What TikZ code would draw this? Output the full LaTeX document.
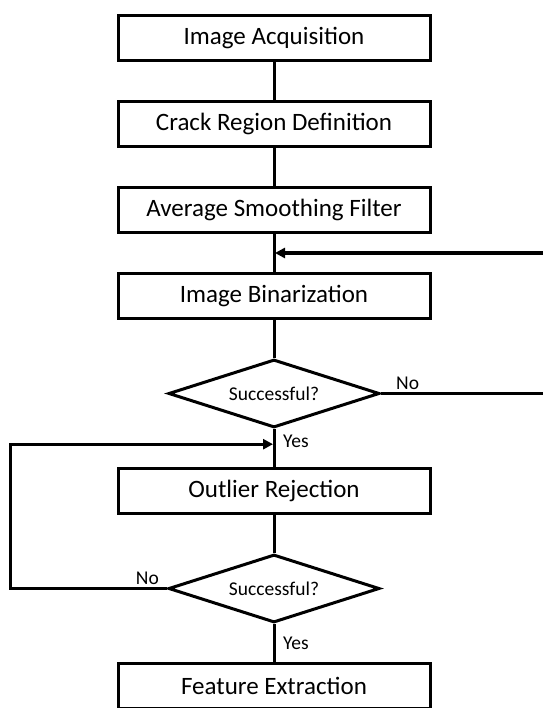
\documentclass[tikz,border=0pt]{standalone}
\usepackage{fontspec}
\setmainfont{Carlito}
\usepackage{tikz}
\usetikzlibrary{positioning, arrows.meta, shapes.geometric, calc}

\begin{document}
\begin{tikzpicture}[
        x=1pt, y=1pt,
        node distance=38pt,
        box/.style={rectangle, draw=black, line width=3pt, fill=white, minimum width=312pt, minimum height=45pt, align=center, font=\fontsize{25}{29}\selectfont},
        decision/.style={diamond, draw=black, line width=3pt, fill=white, aspect=3, minimum width=211pt, minimum height=68pt, inner sep=0pt, font=\fontsize{19.5}{23}\selectfont},
        link/.style={line width=3pt},
        arrow/.style={line width=3pt, -{Triangle[length=10pt, width=10pt]}},
        lbl/.style={font=\fontsize{19.5}{23}\selectfont, inner sep=0pt}
    ]
    \useasboundingbox (0,0) rectangle (542,-708);

    \node[box] (acq) at (274,-38) {Image Acquisition};
    \node[box, below=of acq] (crack) {Crack Region Definition};
    \node[box, below=of crack] (smooth) {Average Smoothing Filter};
    \node[box, below=of smooth] (binar) {Image Binarization};
    \node[decision, below=of binar] (check1) {Successful?};
    \node[box, below=of check1] (outlier) {Outlier Rejection};
    \node[decision, below=of outlier] (check2) {Successful?};
    \node[box, below=of check2] (feature) {Feature Extraction};

    % junctions where the loops come back in
    \coordinate (join1) at ($(smooth.south)!0.5!(binar.north)$);
    \coordinate (join2) at ($(check1.south)!0.4!(outlier.north)$);

    \draw[link] (acq) -- (crack);
    \draw[link] (crack) -- (smooth);
    \draw[link] (smooth) -- (binar);
    \draw[link] (binar) -- (check1);
    \draw[link] (check1) -- (outlier);
    \draw[link] (outlier) -- (check2);
    \draw[link] (check2) -- (feature);

    \draw[arrow, shorten >=1pt] (check1.east) -- (552,0 |- check1.east) |- (join1);
    \draw[arrow, shorten >=1pt] (check2.west) -| (10,0 |- join2) -- (join2);

    \node[lbl, anchor=south west] at ($(check1.east)+(15,4)$) {No};
    \node[lbl, anchor=north west] at ($(check1.south)+(9,-6)$) {Yes};
    \node[lbl, anchor=south east] at ($(check2.west)+(-8,4)$) {No};
    \node[lbl, anchor=west] at ($(check2.south)!0.5!(feature.north)+(9,0)$) {Yes};
    \end{tikzpicture}
\end{document}
